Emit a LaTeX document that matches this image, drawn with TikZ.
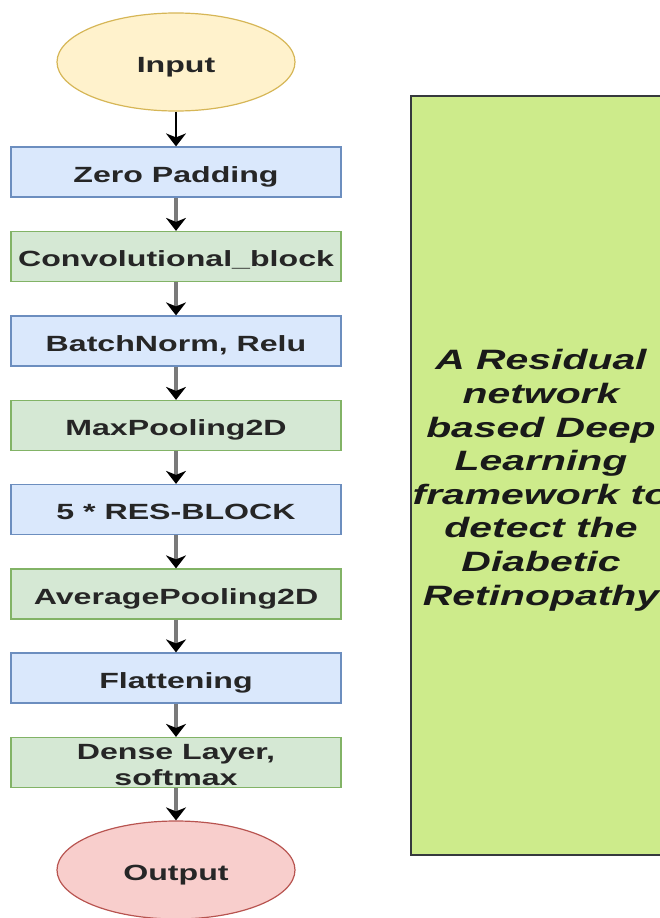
\documentclass[tikz,border=0pt]{standalone}
\usepackage{fontspec}
\setmainfont[FakeStretch=1.46]{Liberation Sans}
\usetikzlibrary{shapes.geometric,arrows.meta}
\definecolor{inFill}{HTML}{FFF2CC}\definecolor{inDraw}{HTML}{D6B656}
\definecolor{blFill}{HTML}{DAE8FC}\definecolor{blDraw}{HTML}{6C8EBF}
\definecolor{grFill}{HTML}{D5E8D4}\definecolor{grDraw}{HTML}{82B366}
\definecolor{outFill}{HTML}{F8CECC}\definecolor{outDraw}{HTML}{B85450}
\definecolor{sideFill}{HTML}{CDEB8B}\definecolor{sideDraw}{HTML}{36393D}
\definecolor{lineGray}{HTML}{7A7A7A}
\begin{document}
\begin{tikzpicture}[x=1pt,y=-1pt,
  lbl/.style={font=\bfseries\fontsize{22}{26}\selectfont, align=center, text=black!85, text height=20pt, text depth=0pt},
  stepbox/.style={lbl, rectangle, minimum width=330pt, minimum height=50pt, line width=1.2pt, inner sep=0pt},
  bluebox/.style={stepbox, fill=blFill, draw=blDraw},
  greenbox/.style={stepbox, fill=grFill, draw=grDraw},
  term/.style={lbl, ellipse, minimum width=238pt, minimum height=98pt, line width=1.2pt, inner sep=0pt},
  conn/.style={line width=3.5pt, draw=lineGray, -{Stealth[length=13pt,width=20pt,inset=4pt,fill=black,color=black]}},
  conn1/.style={line width=2pt, draw=black, -{Stealth[length=13pt,width=20pt,inset=4pt,fill=black,color=black]}}
]
\useasboundingbox (0,0) rectangle (660,918);
\node[term, fill=inFill, draw=inDraw] (in) at (176,62) {Input};
\node[bluebox]  (b1) at (176,172) {Zero Padding};
\node[greenbox] (b2) at (176,256.5) {Convolutional\_block};
\node[bluebox]  (b3) at (176,341) {BatchNorm, Relu};
\node[greenbox] (b4) at (176,425.5) {MaxPooling2D};
\node[bluebox]  (b5) at (176,509.5) {5 * RES-BLOCK};
\node[greenbox] (b6) at (176,594) {AveragePooling2D};
\node[bluebox]  (b7) at (176,678) {Flattening};
\node[greenbox, text height=46pt] (b8) at (176,762.5) {Dense Layer,\\softmax};
\node[term, fill=outFill, draw=outDraw] (out) at (176,870) {Output};
\node[rectangle, fill=sideFill, draw=sideDraw, line width=1.2pt, minimum width=260pt, minimum height=759pt, inner sep=0pt,
      font=\bfseries\itshape\fontsize{28}{33.6}\selectfont, align=center, text=black!90, text height=259.2pt, text depth=0pt] (side) at (541,475.5)
  {A Residual\\network\\based Deep\\Learning\\framework to\\detect the\\Diabetic\\Retinopathy};
\draw[conn1] (in) -- (b1);
\draw[conn] (b1) -- (b2);
\draw[conn] (b2) -- (b3);
\draw[conn] (b3) -- (b4);
\draw[conn] (b4) -- (b5);
\draw[conn] (b5) -- (b6);
\draw[conn] (b6) -- (b7);
\draw[conn] (b7) -- (b8);
\draw[conn] (b8) -- (out);
\end{tikzpicture}
\end{document}
